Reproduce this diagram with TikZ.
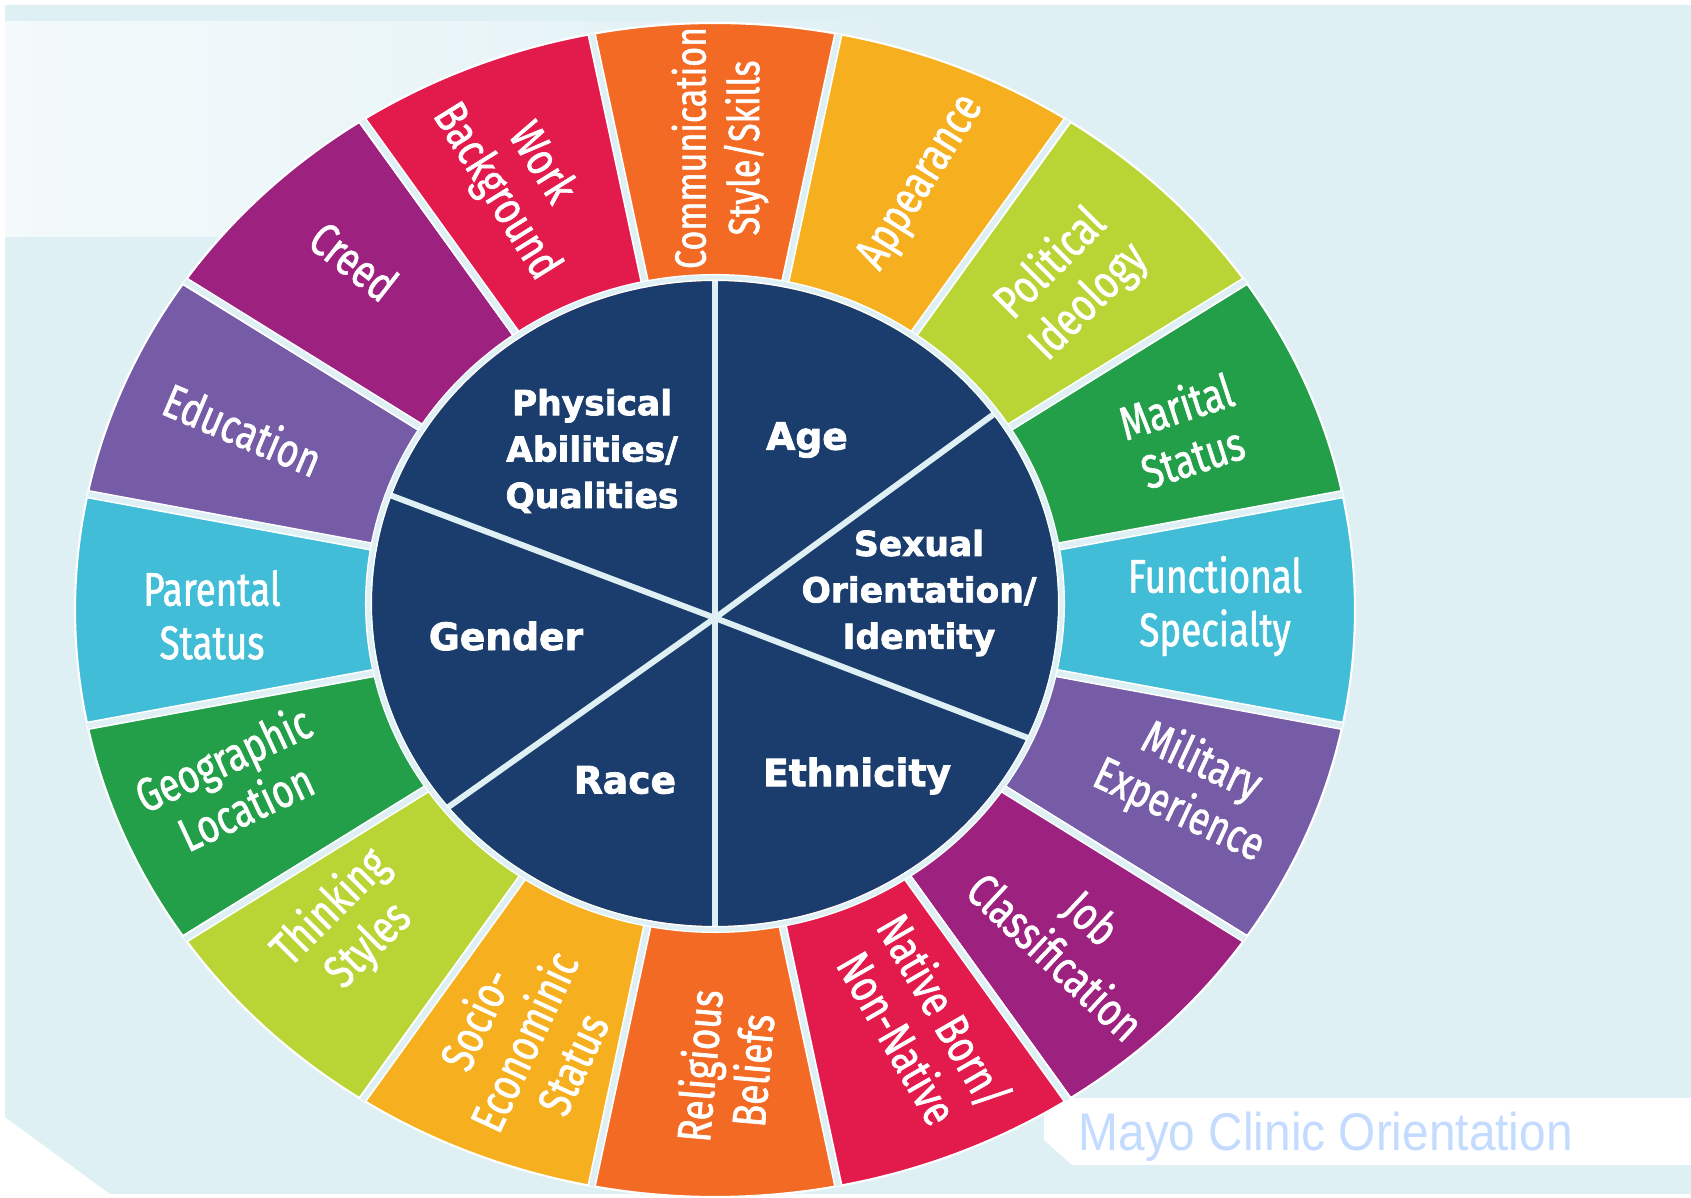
\documentclass[tikz,border=0pt]{standalone}
\usepackage{fontspec}
\setmainfont{Fira Sans}
\newfontfamily\segfont[FakeStretch=0.78, FakeBold=1.3]{Fira Sans}
\newfontfamily\hubfont[FakeBold=2.2]{DejaVu Sans}
\newfontfamily\mayofont[FakeStretch=0.9]{Liberation Sans}

\definecolor{bgblue}{HTML}{DFF0F4}
\definecolor{hubnavy}{HTML}{1A3D6D}
\definecolor{segorange}{HTML}{F26A24}
\definecolor{segyellow}{HTML}{F6AF1E}
\definecolor{seglime}{HTML}{B8D535}
\definecolor{seggreen}{HTML}{229F48}
\definecolor{segcyan}{HTML}{41BDD7}
\definecolor{segpurple}{HTML}{765BA7}
\definecolor{segmagenta}{HTML}{9D2280}
\definecolor{segred}{HTML}{E31B4C}
\definecolor{mayoblue}{HTML}{C3DBFF}

\tikzset{
  segpiece/.style={draw=white, line width=0.6pt},
  seggap/.style={draw=white, line width=0.45pt, double=bgblue, double distance=1.5pt},
  hubgap/.style={draw=bgblue, line width=1.7pt},
  seglabel/.style={text=white, align=center, inner sep=0pt, font=\segfont\fontsize{13.4}{15.2}\selectfont},
  hublabel/.style={text=white, align=center, inner sep=0pt, font=\hubfont\bfseries\fontsize{9.8}{13.2}\selectfont},
  hubbig/.style={hublabel, font=\hubfont\bfseries\fontsize{10.7}{13.2}\selectfont},
  mayolabel/.style={text=mayoblue, inner sep=0pt, font=\mayofont\fontsize{15.1}{17}\selectfont}
}

\begin{document}
\begin{tikzpicture}[x=0.01cm, y=0.01cm]
  \useasboundingbox (0,0) rectangle (1691,1197);
  % backdrop
  \fill[bgblue] (5,1192) -- (1691,1192) -- (1691,3) -- (110,3) -- (5,80) -- cycle;
  \shade[left color=white!65!bgblue, right color=bgblue] (5,1175) rectangle (900,960);
  \fill[white] (1044,99) -- (1691,99) -- (1691,32) -- (1072,32) -- (1044,57) -- cycle;
  \node[mayolabel, anchor=base west] (mayo) at (1078,47) {Mayo Clinic Orientation};

  % outer ring of sixteen pieces
  \begin{scope}[shift={(715,587)}]
    \foreach \ang/\col [evaluate=\ang as \angA using \ang+11.25,
                        evaluate=\ang as \angB using \ang-11.25] in
      {90/segorange, 67.5/segyellow, 45/seglime, 22.5/seggreen,
       0/segcyan, -22.5/segpurple, -45/segmagenta, -67.5/segred,
       -90/segorange, -112.5/segyellow, -135/seglime, -157.5/seggreen,
       180/segcyan, 157.5/segpurple, 135/segmagenta, 112.5/segred}
      \path[segpiece, fill=\col] (\angA:640 and 587)
        arc[start angle=\angA, end angle=\angB, x radius=640, y radius=587]
        -- (\angB:330 and 300)
        arc[start angle=\angB, end angle=\angA, x radius=330, y radius=300] -- cycle;
    \begin{scope}
      \clip (0,0) ellipse [x radius=640, y radius=587];
      \foreach \ang in {11.25,33.75,...,350}
        \draw[seggap] (0,0) -- (\ang:700 and 650);
    \end{scope}
  \end{scope}

  % inner pie
  \begin{scope}[shift={(715,593.5)}]
    \fill[hubnavy] (0,0) ellipse [x radius=343, y radius=322.5];
    \coordinate (hub) at (0,-14.5);
    \foreach \ang in {90,35.8,-24.5,-90,-141,160.5}
      \draw[hubgap] (hub) -- (\ang:346 and 326);
    \draw[white, line width=0.4pt, double=bgblue, double distance=1.2pt]
      (0,0) ellipse [x radius=346.5, y radius=326];
  \end{scope}

  % inner labels
  \node[hublabel] (phys) at (592,746) {Physical\\Abilities/\\Qualities};
  \node[hubbig] (age) at (807,757) {Age};
  \node[hublabel] (sexual) at (919,604) {Sexual\\Orientation/\\Identity};
  \node[hubbig] (gender) at (506,561) {Gender};
  \node[hubbig] (race) at (625,417) {Race};
  \node[hubbig] (ethnic) at (857,421) {Ethnicity};

  % outer labels
  \node[seglabel, rotate=90, font=\segfont\fontsize{12.4}{15.2}\selectfont] (comm) at (720,1049) {Communication\\Style/Skills};
  \node[seglabel, rotate=58] (appear) at (922,1014) {Appearance};
  \node[seglabel, rotate=45] (polit) at (1070,914) {Political\\Ideology};
  \node[seglabel, rotate=18] (marital) at (1184,766) {Marital\\Status};
  \node[seglabel] (funct) at (1215,591) {Functional\\Specialty};
  \node[seglabel, rotate=-25] (milit) at (1190,410) {Military\\Experience};
  \node[seglabel, rotate=-43] (job) at (1074,260) {Job\\Classification};
  \node[seglabel, rotate=-60] (native) at (922,173) {Native Born/\\Non-Native};
  \node[seglabel, rotate=85] (relig) at (725,129) {Religious\\Beliefs};
  \node[seglabel, rotate=65] (socio) at (523,156) {Socio-\\Econominic\\Status};
  \node[seglabel, rotate=45] (think) at (350,270) {Thinking\\Styles};
  \node[seglabel, rotate=25] (geo) at (234,415) {Geographic\\Location};
  \node[seglabel] (parent) at (212,582) {Parental\\Status};
  \node[seglabel, rotate=-23] (educ) at (243,768) {Education};
  \node[seglabel, rotate=-38] (creed) at (354,936) {Creed};
  \node[seglabel, rotate=-58] (work) at (518,1019) {Work\\Background};
\end{tikzpicture}
\end{document}
